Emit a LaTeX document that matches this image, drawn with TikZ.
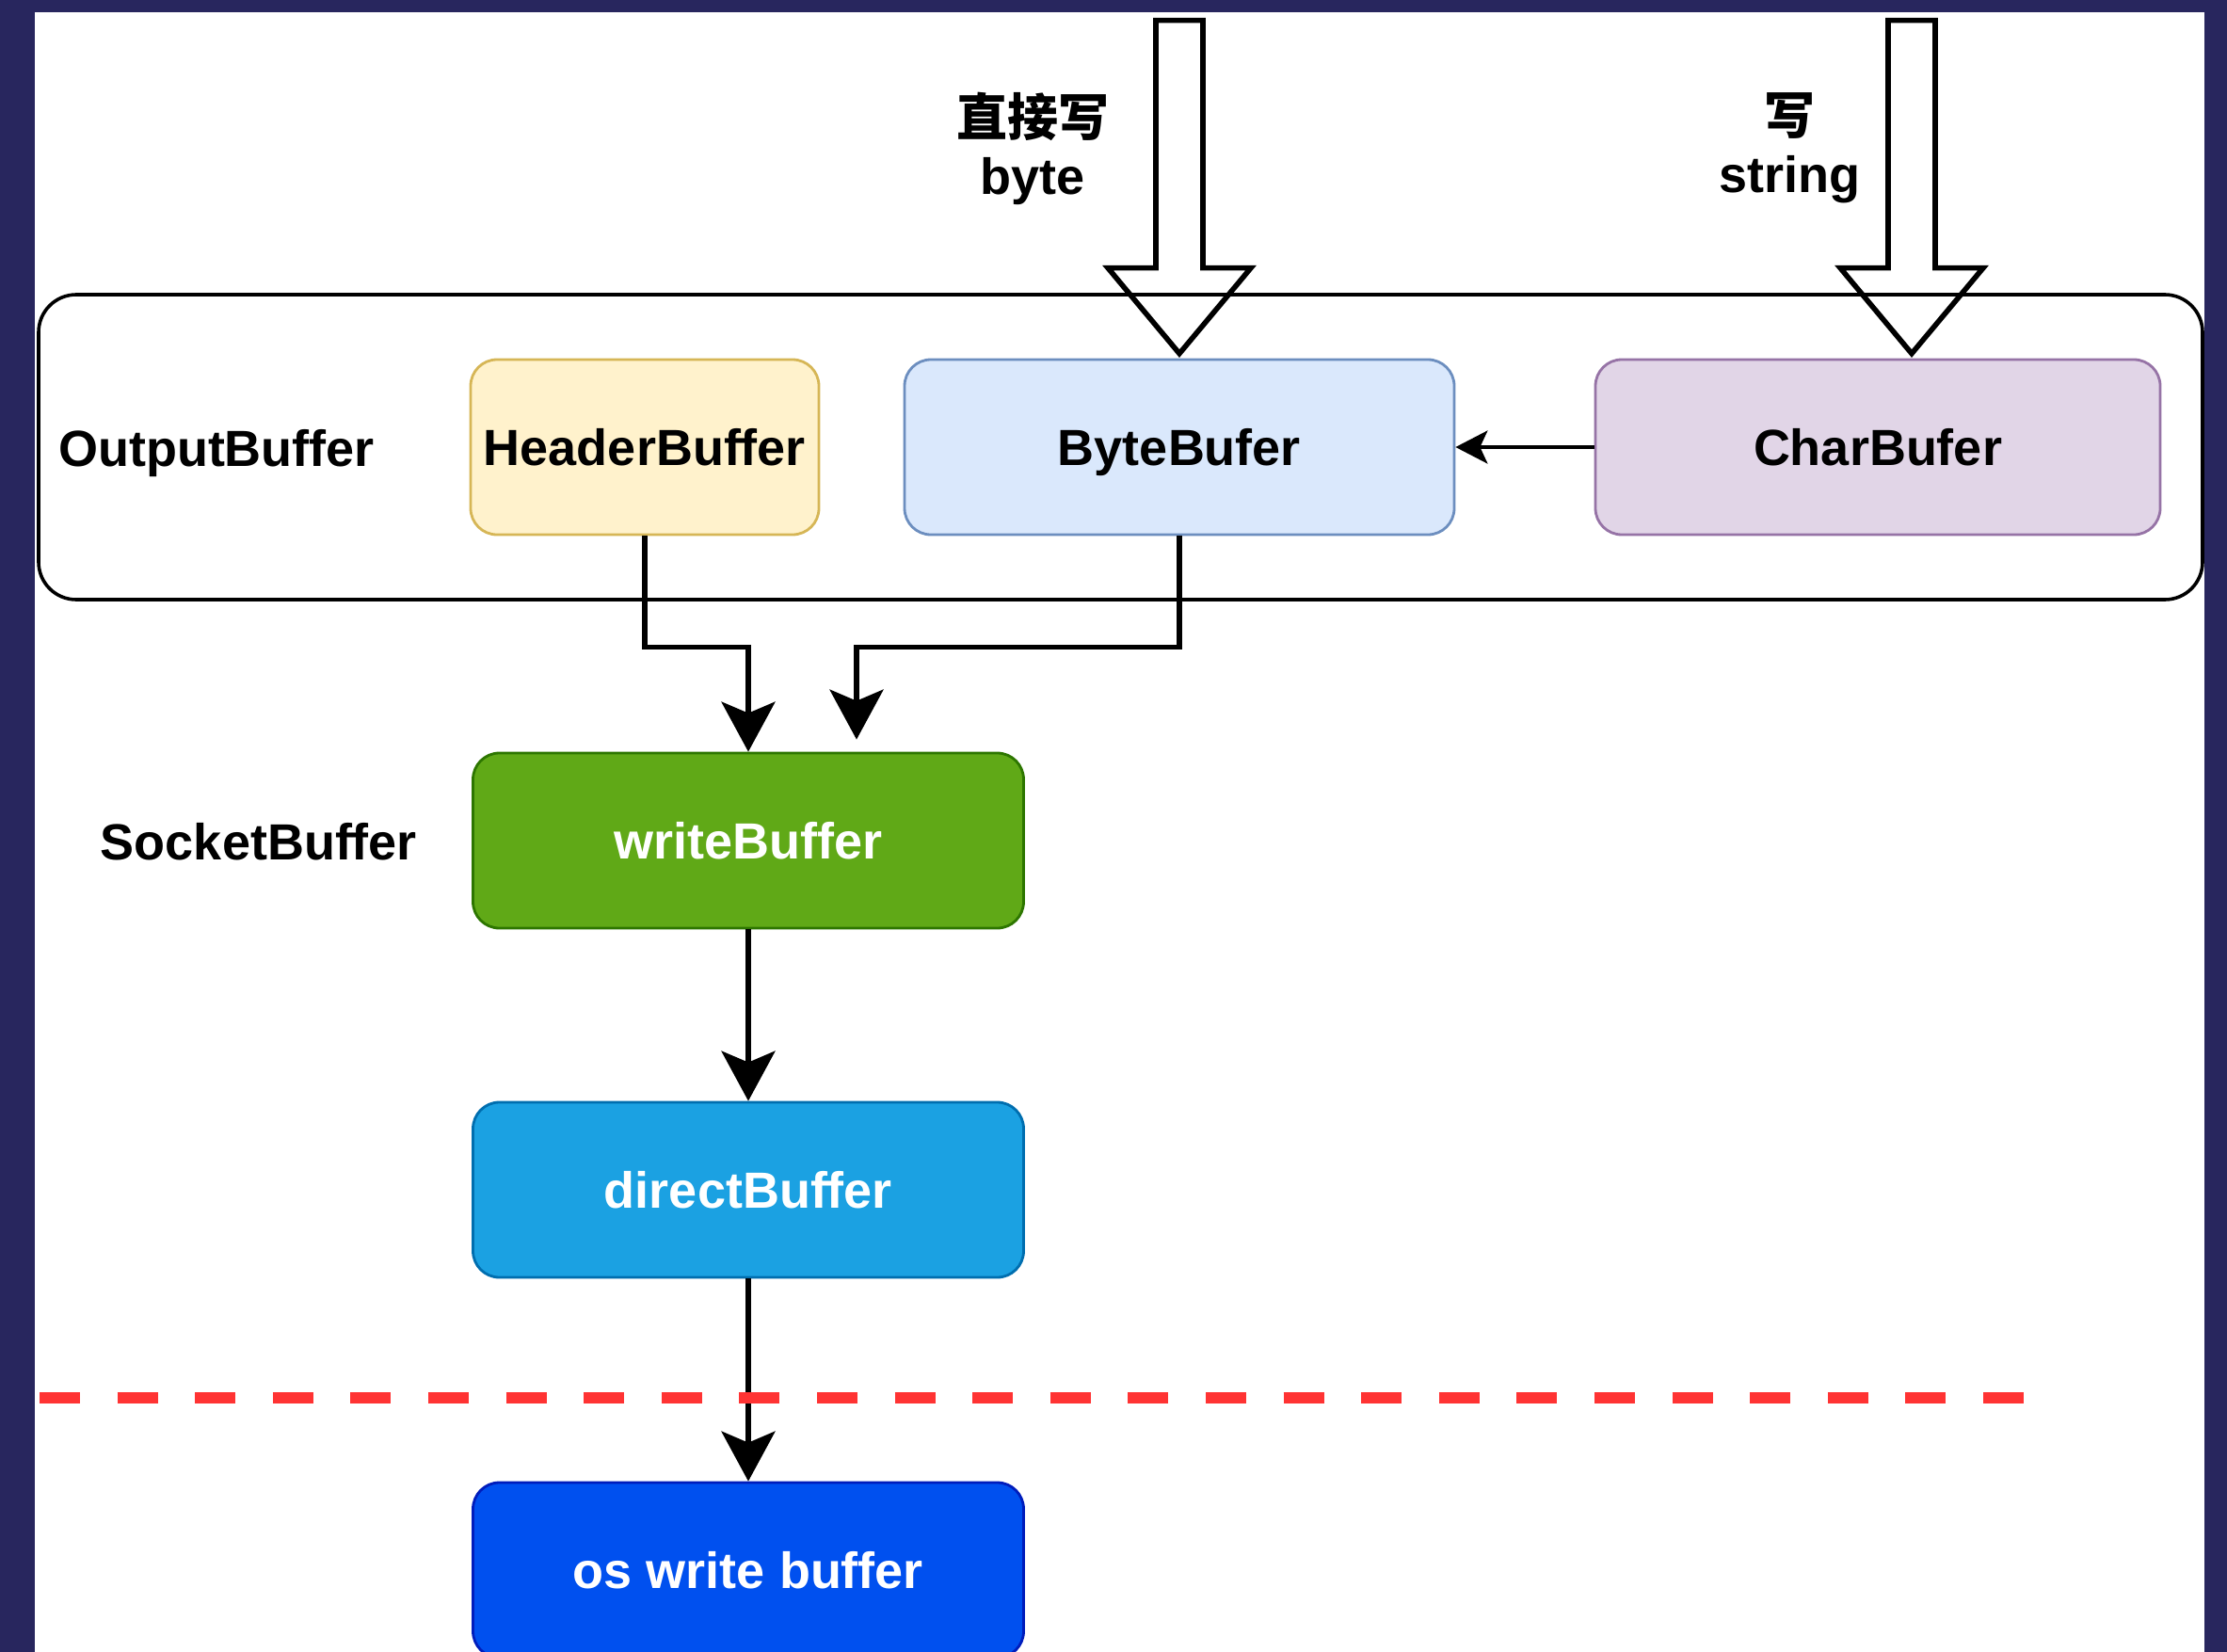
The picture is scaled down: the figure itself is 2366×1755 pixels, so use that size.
\documentclass[tikz,border=0pt]{standalone}
\usepackage{fontspec}
\setmainfont{Liberation Sans}
\newfontfamily\cjk{Noto Sans CJK SC}
\usetikzlibrary{arrows.meta,calc}

\definecolor{framebg}{HTML}{28265E}
\definecolor{hdrfill}{HTML}{FFF2CC}\definecolor{hdrline}{HTML}{D6B656}
\definecolor{bytefill}{HTML}{DAE8FC}\definecolor{byteline}{HTML}{6C8EBF}
\definecolor{charfill}{HTML}{E1D5E7}\definecolor{charline}{HTML}{9673A6}
\definecolor{wrfill}{HTML}{60A917}\definecolor{wrline}{HTML}{2D7600}
\definecolor{dirfill}{HTML}{1BA1E2}\definecolor{dirline}{HTML}{006EAF}
\definecolor{osfill}{HTML}{0050EF}\definecolor{osline}{HTML}{001DBC}
\definecolor{cutline}{HTML}{FF3333}

\begin{document}
\begin{tikzpicture}[x=0.5pt,y=-0.5pt,
  lbl/.style={font=\bfseries\fontsize{27}{31}\selectfont, inner sep=0pt,
              text height=19.4pt, text depth=0pt},
  buf/.style={lbl, draw, line width=1.4pt, rounded corners=14pt,
              minimum height=93pt},
  conn/.style={line width=2.6pt, -{Stealth[length=26.5pt,width=28.5pt,inset=6pt]}},
  sidearrow/.style={line width=1.8pt, -{Stealth[length=17pt,width=17.5pt,inset=4pt]}},
  blockarrow/.style={line width=2.8pt, line join=miter},
  note/.style={font=\bfseries\fontsize{27}{31}\selectfont, inner sep=0pt, align=center}
]
\useasboundingbox (0,0) rectangle (2366,1755);
\clip (0,0) rectangle (2366,1755);

% frame and canvas
\fill[framebg] (0,0) rectangle (2366,1755);
\fill[white] (37,13) rectangle (2342,1770);

% OutputBuffer group
\node[draw, line width=1.8pt, rounded corners=20pt, minimum width=1149.5pt,
      minimum height=162pt, inner sep=0pt] (ob) at (1190.5,475) {};
\node[lbl] (oblabel) at (230,476) {OutputBuffer};

\node[buf, fill=hdrfill, draw=hdrline, minimum width=185pt] (hb) at (685,475) {HeaderBuffer};
\node[buf, fill=bytefill, draw=byteline, minimum width=292pt] (bb) at (1253,475) {ByteBufer};
\node[buf, fill=charfill, draw=charline, minimum width=300pt] (cb) at (1995,475) {CharBufer};

% SocketBuffer stages
\node[lbl] (sblabel) at (275,894) {SocketBuffer};
\node[buf, fill=wrfill, draw=wrline, text=white, minimum width=292.5pt] (wb) at (795,893) {writeBuffer};
\node[buf, fill=dirfill, draw=dirline, text=white, minimum width=292.5pt] (db) at (795,1264) {directBuffer};
\node[buf, fill=osfill, draw=osline, text=white, minimum width=292.5pt] (os) at (795,1668) {os write buffer};

% incoming writes
\node[note, anchor=north] (lblbyte) at (1097,98) {{\cjk 直接写}\\byte};
\node[note, anchor=north] (lblstr) at (1901,98) {{\cjk 写}\\string};

\draw[blockarrow] ([yshift=2.5pt]bb.north) -- ++(76,-91) -- ++(-51,0) -- ++(0,-263)
  -- ++(-50,0) -- ++(0,263) -- ++(-51,0) -- cycle;
\draw[blockarrow] ([xshift=18pt,yshift=2.5pt]cb.north) -- ++(76,-91) -- ++(-51,0) -- ++(0,-263)
  -- ++(-50,0) -- ++(0,263) -- ++(-51,0) -- cycle;

% flows
\draw[sidearrow] (cb.west) -- (bb.east);
\coordinate (wbin) at ($(wb.north)+(115,-13)$);
\draw[conn] (hb.south) -- ++(0,118) -| (wb.north);
\draw[conn] (bb.south) -- ++(0,118) -| (wbin);
\draw[conn] (wb.south) -- (db.north);
\draw[conn] (db.south) -- (os.north);

% user / kernel boundary
\coordinate (cutL) at (42,1485);
\coordinate (cutR) at (2153,1485);
\draw[cutline, line width=6pt, dash pattern=on 21.5pt off 19.8pt] (cutL) -- (cutR);
\end{tikzpicture}
\end{document}
